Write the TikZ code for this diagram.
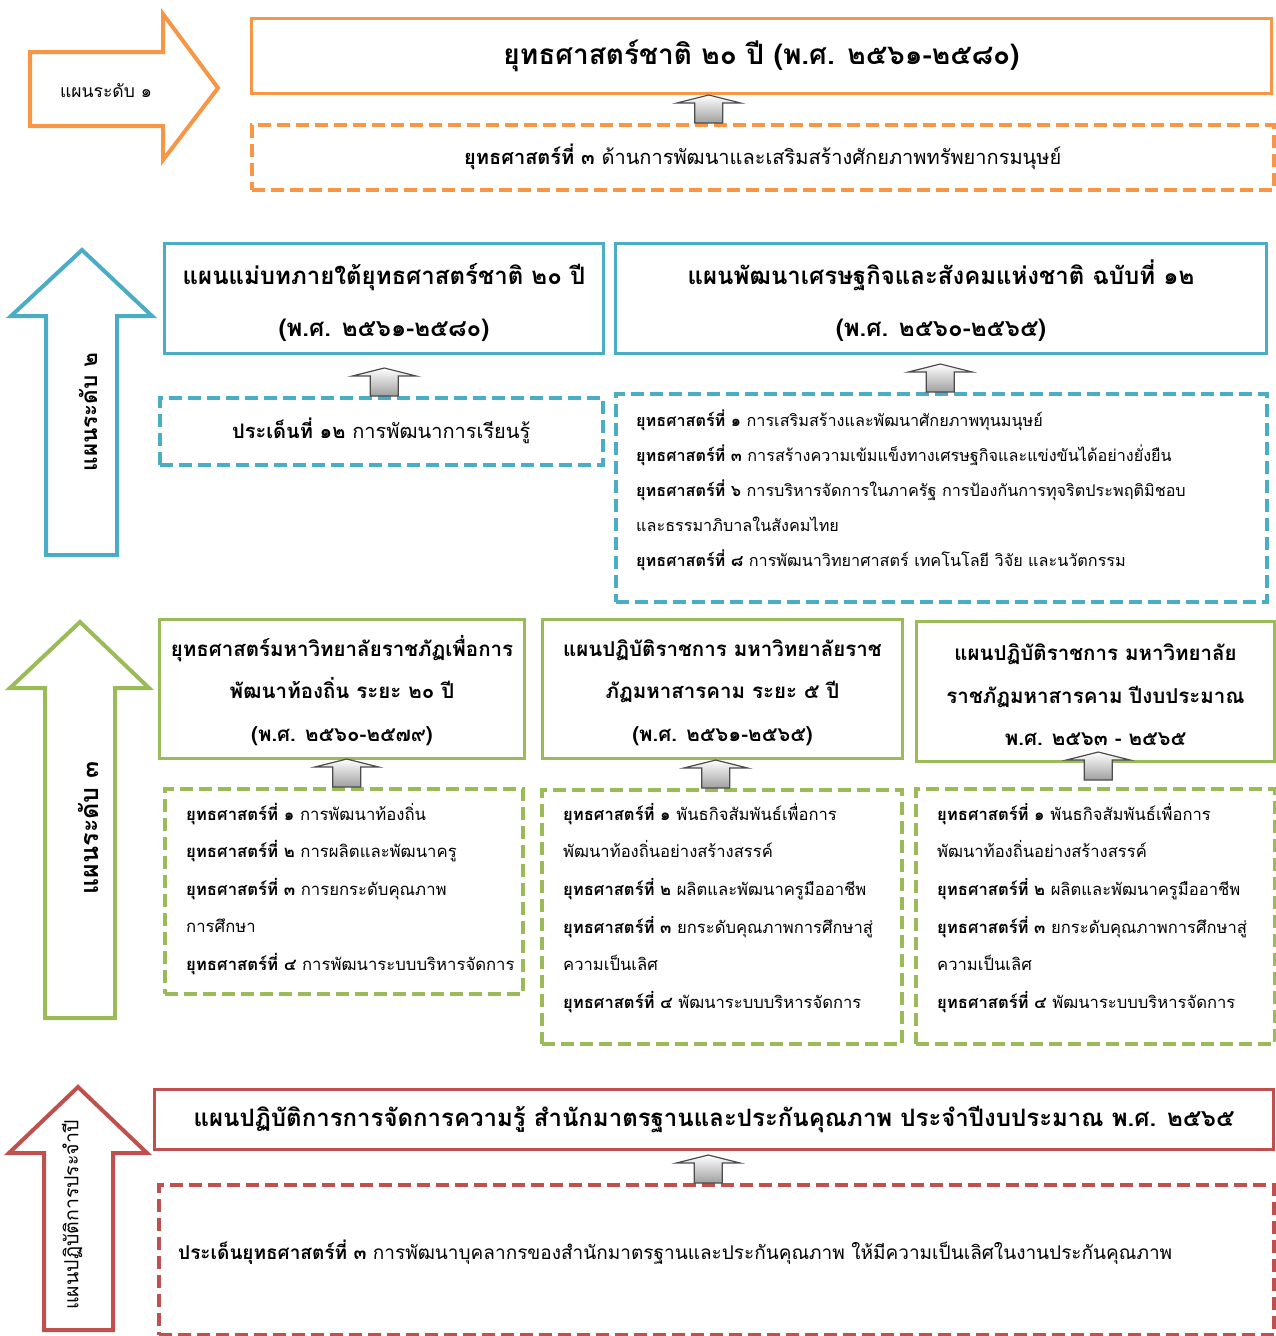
\documentclass[tikz,border=0pt]{standalone}
\usepackage{fontspec}
\setmainfont[Script=Thai]{Loma}
\usetikzlibrary{positioning}
\definecolor{lvone}{HTML}{F79646}
\definecolor{lvtwo}{HTML}{4BACC6}
\definecolor{lvthree}{HTML}{9BBB59}
\definecolor{lvfour}{HTML}{C0504D}
\newcommand{\ystr}[1]{\textbf{ยุทธศาสตร์ที่ #1}}
\tikzset{
  plan/.style={draw=#1, line width=3pt, inner sep=0pt, align=center, anchor=north west},
  issue/.style={draw=#1, line width=3.5pt, dash pattern=on 13pt off 6pt, inner sep=0pt, anchor=north west},
  bodytext/.style={anchor=north west, align=left, inner sep=0pt},
  bigarrow/.style={draw=#1, line width=4pt, fill=white, line join=miter},
  lvlabel/.style={font=\bfseries\fontsize{#1}{24}\selectfont, rotate=90},
  pics/uparr/.style={code={
    \draw[gray!60!black, line width=1.2pt, top color=white, bottom color=gray!75]
      (-14,28) -- (-14,8) -- (-32,8) -- (0,0) -- (32,8) -- (14,8) -- (14,28) -- cycle;}}
}
\begin{document}
\begin{tikzpicture}[x=1pt, y=-1pt]
\useasboundingbox (0,0) rectangle (1275,1336);

% level 1
\draw[bigarrow=lvone] (30,52) -- (163,52) -- (163,14) -- (218,88) -- (163,160) -- (163,126) -- (30,126) -- cycle;
\node[font=\fontsize{17.5}{22}\selectfont] (lvone) at (106,91) {แผนระดับ ๑};
\node[plan=lvone, minimum width=1020pt, minimum height=75pt, font=\bfseries\fontsize{28}{32}\selectfont]
  (natstrat) at (250,17) {ยุทธศาสตร์ชาติ ๒๐ ปี (พ.ศ. ๒๕๖๑-๒๕๘๐)};
\node[issue=lvone, minimum width=1022pt, minimum height=65pt, font=\fontsize{20}{24}\selectfont]
  (natissue) at (250,123) {\ystr{๓} ด้านการพัฒนาและเสริมสร้างศักยภาพทรัพยากรมนุษย์};
\pic at ([xshift=-54pt, yshift=28pt]natissue.north) {uparr};

% level 2
\draw[bigarrow=lvtwo] (82,250) -- (152,316) -- (117,316) -- (117,555) -- (46,555) -- (46,316) -- (11,316) -- cycle;
\node[lvlabel=22.5] (lvtwo) at (88,412) {แผนระดับ ๒};
\node[plan=lvtwo, minimum width=439pt, minimum height=110pt, font=\bfseries\fontsize{24}{52}\selectfont]
  (master) at (163,242) {\rule{0pt}{30pt}แผนแม่บทภายใต้ยุทธศาสตร์ชาติ ๒๐ ปี\\(พ.ศ. ๒๕๖๑-๒๕๘๐)};
\node[plan=lvtwo, minimum width=651pt, minimum height=110pt, font=\bfseries\fontsize{24}{52}\selectfont]
  (nesdp) at (614,242) {\rule{0pt}{30pt}แผนพัฒนาเศรษฐกิจและสังคมแห่งชาติ ฉบับที่ ๑๒\\(พ.ศ. ๒๕๖๐-๒๕๖๕)};
\node[issue=lvtwo, minimum width=443pt, minimum height=67pt, font=\fontsize{20}{24}\selectfont]
  (masterissue) at (158,396) {\textbf{ประเด็นที่ ๑๒} การพัฒนาการเรียนรู้};
\node[issue=lvtwo, minimum width=651pt, minimum height=208pt] (nesdpissue) at (614,392) {};
\node[bodytext, font=\fontsize{16.2}{35}\selectfont] (nesdptext) at ([xshift=22pt, yshift=-18pt]nesdpissue.north west)
  {\ystr{๑} การเสริมสร้างและพัฒนาศักยภาพทุนมนุษย์\\
  \ystr{๓} การสร้างความเข้มแข็งทางเศรษฐกิจและแข่งขันได้อย่างยั่งยืน\\
  \ystr{๖} การบริหารจัดการในภาครัฐ การป้องกันการทุจริตประพฤติมิชอบ\\
  และธรรมาภิบาลในสังคมไทย\\
  \ystr{๘} การพัฒนาวิทยาศาสตร์ เทคโนโลยี วิจัย และนวัตกรรม};
\pic at ([xshift=3pt, yshift=28pt]masterissue.north) {uparr};
\pic at ([xshift=-1pt, yshift=28pt]nesdpissue.north) {uparr};

% level 3
\draw[bigarrow=lvthree] (80,622) -- (149,688) -- (115,688) -- (115,1018) -- (45,1018) -- (45,688) -- (10,688) -- cycle;
\node[lvlabel=25] (lvthree) at (88,828) {แผนระดับ ๓};
\node[plan=lvthree, minimum width=365pt, minimum height=139pt, font=\bfseries\fontsize{20.5}{42.5}\selectfont]
  (rustrat) at (158,618) {\rule{0pt}{24pt}ยุทธศาสตร์มหาวิทยาลัยราชภัฏเพื่อการ\\พัฒนาท้องถิ่น ระยะ ๒๐ ปี\\(พ.ศ. ๒๕๖๐-๒๕๗๙)};
\node[plan=lvthree, minimum width=360pt, minimum height=139pt, font=\bfseries\fontsize{20.5}{42.5}\selectfont]
  (fiveyear) at (541,618) {\rule{0pt}{24pt}แผนปฏิบัติราชการ มหาวิทยาลัยราช\\ภัฏมหาสารคาม ระยะ ๕ ปี\\(พ.ศ. ๒๕๖๑-๒๕๖๕)};
\node[plan=lvthree, minimum width=358pt, minimum height=140pt, font=\bfseries\fontsize{20.5}{42.5}\selectfont]
  (budget) at (915,620) {\rule{0pt}{24pt}แผนปฏิบัติราชการ มหาวิทยาลัย\\ราชภัฏมหาสารคาม ปีงบประมาณ\\พ.ศ. ๒๕๖๓ - ๒๕๖๕};
\node[issue=lvthree, minimum width=358pt, minimum height=205pt] (rustratissue) at (163,787) {};
\node[bodytext, font=\fontsize{16.7}{37.5}\selectfont] (rustrattext) at ([xshift=23pt, yshift=-16pt]rustratissue.north west)
  {\ystr{๑} การพัฒนาท้องถิ่น\\
  \ystr{๒} การผลิตและพัฒนาครู\\
  \ystr{๓} การยกระดับคุณภาพ\\
  การศึกษา\\
  \ystr{๔} การพัฒนาระบบบริหารจัดการ};
\node[issue=lvthree, minimum width=360pt, minimum height=254pt] (fiveyearissue) at (540,788) {};
\node[bodytext, font=\fontsize{16.6}{37.6}\selectfont] (fiveyeartext) at ([xshift=23pt, yshift=-15pt]fiveyearissue.north west)
  {\ystr{๑} พันธกิจสัมพันธ์เพื่อการ\\
  พัฒนาท้องถิ่นอย่างสร้างสรรค์\\
  \ystr{๒} ผลิตและพัฒนาครูมืออาชีพ\\
  \ystr{๓} ยกระดับคุณภาพการศึกษาสู่\\
  ความเป็นเลิศ\\
  \ystr{๔} พัฒนาระบบบริหารจัดการ};
\node[issue=lvthree, minimum width=359pt, minimum height=255pt] (budgetissue) at (914,787) {};
\node[bodytext, font=\fontsize{16.6}{37.6}\selectfont] (budgettext) at ([xshift=23pt, yshift=-16pt]budgetissue.north west)
  {\ystr{๑} พันธกิจสัมพันธ์เพื่อการ\\
  พัฒนาท้องถิ่นอย่างสร้างสรรค์\\
  \ystr{๒} ผลิตและพัฒนาครูมืออาชีพ\\
  \ystr{๓} ยกระดับคุณภาพการศึกษาสู่\\
  ความเป็นเลิศ\\
  \ystr{๔} พัฒนาระบบบริหารจัดการ};
\pic at ([xshift=3pt, yshift=28pt]rustratissue.north) {uparr};
\pic at ([xshift=-6pt, yshift=28pt]fiveyearissue.north) {uparr};
\pic at ([xshift=3pt, yshift=35pt]budgetissue.north) {uparr};

% level 4
\draw[bigarrow=lvfour] (78,1087) -- (147,1153) -- (113,1153) -- (113,1330) -- (44,1330) -- (44,1153) -- (9,1153) -- cycle;
\node[font=\fontsize{19.5}{24}\selectfont, rotate=90] (lvfour) at (72,1215) {แผนปฏิบัติการประจำปี};
\node[plan=lvfour, minimum width=1119pt, minimum height=60pt, font=\bfseries\fontsize{24}{28}\selectfont]
  (kmplan) at (153,1088) {แผนปฏิบัติการการจัดการความรู้ สำนักมาตรฐานและประกันคุณภาพ ประจำปีงบประมาณ พ.ศ. ๒๕๖๕};
\node[issue=lvfour, minimum width=1115pt, minimum height=150pt] (kmissue) at (157,1183) {};
\node[bodytext, anchor=west, font=\fontsize{19}{22}\selectfont] (kmtext) at ([xshift=21pt, yshift=8pt]kmissue.west)
  {\textbf{ประเด็นยุทธศาสตร์ที่ ๓} การพัฒนาบุคลากรของสำนักมาตรฐานและประกันคุณภาพ ให้มีความเป็นเลิศในงานประกันคุณภาพ};
\pic at ([xshift=-8pt, yshift=28pt]kmissue.north) {uparr};
\end{tikzpicture}
\end{document}
